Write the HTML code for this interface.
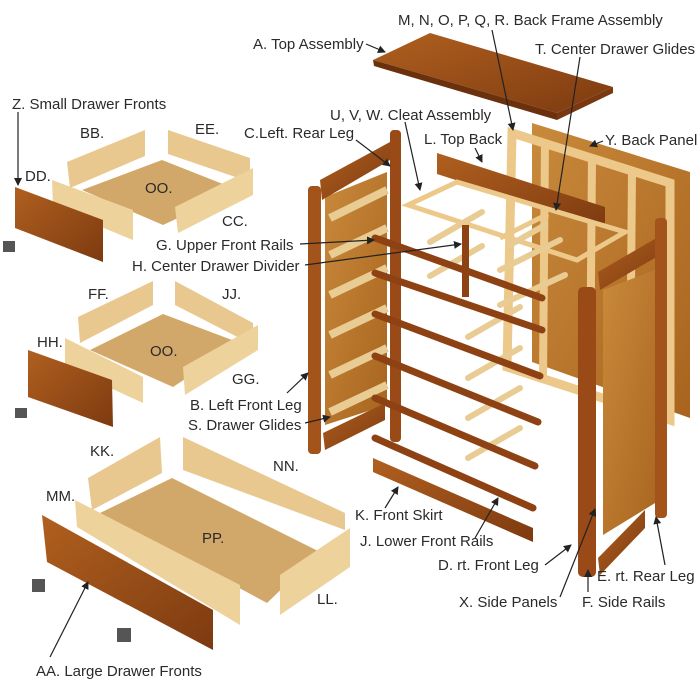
<!DOCTYPE html>
<html><head><meta charset="utf-8"><style>
html,body{margin:0;padding:0;background:#fff;}
svg{display:block;}
text{font-family:"Liberation Sans",Arial,sans-serif;font-size:15px;fill:#2a2a2a;}
</style></head><body>
<svg width="700" height="700" viewBox="0 0 700 700" xmlns="http://www.w3.org/2000/svg">
<defs>
<marker id="ar" markerWidth="8" markerHeight="8" refX="7" refY="4" orient="auto" markerUnits="userSpaceOnUse">
<path d="M0,0 L8,4 L0,8 z" fill="#222"/></marker>
<linearGradient id="dk" x1="0" y1="0" x2="1" y2="1"><stop offset="0" stop-color="#b0601f"/><stop offset="1" stop-color="#7d3a10"/></linearGradient>
<linearGradient id="pl" x1="0" y1="0" x2="1" y2="1"><stop offset="0" stop-color="#c98a3c"/><stop offset="1" stop-color="#a8641e"/></linearGradient>
</defs>

<!-- Top assembly -->
<polygon points="373,60 430,33 613,87 557,113" fill="url(#dk)"/>
<polygon points="373,60 557,113 557,120 374,66" fill="#6b300c"/>
<polygon points="557,113 613,87 613,93 557,120" fill="#7a3810"/>

<!-- Back panel -->
<polygon points="532,123 690,172 690,418 532,362" fill="url(#pl)"/>
<!-- Back frame -->
<polygon points="512,133 670,183 670,420 507,367" fill="none" stroke="#ecc98a" stroke-width="9"/>
<line x1="545" y1="143" x2="543" y2="378" stroke="#ecc98a" stroke-width="8"/>
<line x1="592" y1="158" x2="590" y2="395" stroke="#ecc98a" stroke-width="8"/>
<line x1="632" y1="171" x2="630" y2="408" stroke="#ecc98a" stroke-width="8"/>

<!-- Top back -->
<polygon points="437,153 605,207 605,228 437,174" fill="url(#dk)"/>
<!-- Cleat frame -->
<polygon points="408,205 457,182 625,232 577,260" fill="none" stroke="#ecc98a" stroke-width="5"/>
<line x1="500" y1="238" x2="548" y2="214" stroke="#ecc98a" stroke-width="5"/>

<!-- glides (light dowels) -->
<g stroke="#e8cc94" stroke-width="6" stroke-linecap="round">
<line x1="430" y1="242" x2="482" y2="212"/>
<line x1="430" y1="276" x2="482" y2="246"/>
<line x1="468" y1="337" x2="520" y2="307"/>
<line x1="468" y1="378" x2="520" y2="348"/>
<line x1="468" y1="418" x2="520" y2="388"/>
<line x1="468" y1="458" x2="520" y2="428"/>
<line x1="500" y1="270" x2="560" y2="240"/>
<line x1="500" y1="305" x2="565" y2="275"/>
<line x1="510" y1="245" x2="545" y2="225"/>
</g>

<!-- Left side assembly -->
<polygon points="325,197 387,172 387,405 325,425" fill="url(#pl)"/>
<polygon points="320,180 390,142 390,160 322,200" fill="url(#dk)"/>
<polygon points="323,433 385,403 385,420 325,450" fill="url(#dk)"/>
<g stroke="#e8cc94" stroke-width="8">
<line x1="330" y1="218" x2="387" y2="190"/>
<line x1="330" y1="255" x2="387" y2="228"/>
<line x1="330" y1="295" x2="387" y2="268"/>
<line x1="330" y1="335" x2="387" y2="308"/>
<line x1="330" y1="375" x2="387" y2="348"/>
<line x1="330" y1="412" x2="387" y2="385"/>
</g>
<rect x="390" y="130" width="11" height="312" rx="4" fill="#9a4a16"/>
<rect x="308" y="186" width="13" height="268" rx="4" fill="#a3541b"/>

<!-- Front rails -->
<g stroke="#8e4213" stroke-width="7" stroke-linecap="round">
<line x1="375" y1="238" x2="542" y2="298"/>
<line x1="375" y1="273" x2="542" y2="330"/>
<line x1="375" y1="314" x2="540" y2="376"/>
<line x1="375" y1="356" x2="538" y2="422"/>
<line x1="375" y1="398" x2="535" y2="466"/>
<line x1="375" y1="438" x2="533" y2="508"/>
</g>
<polygon points="373,458 533,528 533,542 373,472" fill="url(#dk)"/>
<rect x="462" y="225" width="7" height="72" fill="#8e4213"/>

<!-- Right side -->
<polygon points="603,290 660,268 660,500 603,535" fill="url(#pl)"/>
<polygon points="598,272 665,233 665,252 600,290" fill="url(#dk)"/>
<polygon points="598,558 645,510 645,528 600,575" fill="url(#dk)"/>
<rect x="655" y="218" width="12" height="300" rx="4" fill="#a3541b"/>
<rect x="578" y="287" width="18" height="290" rx="5" fill="#9a4a16"/>

<!-- Small drawer 1 -->
<polygon points="82,190 162,160 238,190 163,225" fill="#d2a86a"/>
<polygon points="67,162 145,130 145,156 70,188" fill="#e8c88e"/>
<polygon points="168,130 250,158 250,182 168,154" fill="#e8c88e"/>
<polygon points="52,180 133,210 133,240 53,207" fill="#edd29c"/>
<polygon points="175,207 253,168 253,195 178,233" fill="#edd29c"/>
<polygon points="15,187 103,220 103,262 15,228" fill="url(#dk)"/>

<!-- Small drawer 2 -->
<polygon points="90,350 163,314 240,343 173,387" fill="#d2a86a"/>
<polygon points="78,317 153,281 153,305 80,343" fill="#e8c88e"/>
<polygon points="175,281 253,323 253,345 175,305" fill="#e8c88e"/>
<polygon points="65,338 143,377 143,403 65,367" fill="#edd29c"/>
<polygon points="183,367 258,325 258,350 185,395" fill="#edd29c"/>
<polygon points="28,350 112,380 113,427 28,397" fill="url(#dk)"/>

<!-- Large drawer -->
<polygon points="100,513 172,478 320,552 267,603" fill="#d2a86a"/>
<polygon points="88,478 160,437 162,473 92,510" fill="#e8c88e"/>
<polygon points="183,437 345,513 345,530 183,470" fill="#e8c88e"/>
<polygon points="75,500 240,585 240,625 77,527" fill="#edd29c"/>
<polygon points="280,575 350,528 350,567 280,615" fill="#edd29c"/>
<polygon points="42,515 213,610 213,650 47,562" fill="url(#dk)"/>

<!-- handles -->
<rect x="3" y="241" width="12" height="11" fill="#555"/>
<rect x="15" y="408" width="12" height="10" fill="#555"/>
<rect x="32" y="579" width="13" height="13" fill="#555"/>
<rect x="117" y="628" width="14" height="14" fill="#555"/>

<!-- leaders -->
<g stroke="#222" stroke-width="1.2" fill="none" marker-end="url(#ar)">
<line x1="366" y1="44" x2="385" y2="52"/>
<line x1="492" y1="30" x2="513" y2="130"/>
<line x1="580" y1="57" x2="556" y2="210"/>
<line x1="18" y1="112" x2="18" y2="185"/>
<line x1="405" y1="122" x2="420" y2="190"/>
<line x1="356" y1="140" x2="390" y2="166"/>
<line x1="475" y1="148" x2="482" y2="162"/>
<line x1="603" y1="141" x2="590" y2="146"/>
<line x1="300" y1="244" x2="374" y2="240"/>
<line x1="305" y1="265" x2="461" y2="244"/>
<line x1="287" y1="393" x2="308" y2="373"/>
<line x1="305" y1="423" x2="330" y2="417"/>
<line x1="385" y1="508" x2="398" y2="487"/>
<line x1="475" y1="538" x2="498" y2="498"/>
<line x1="545" y1="565" x2="571" y2="545"/>
<line x1="665" y1="565" x2="656" y2="517"/>
<line x1="560" y1="597" x2="595" y2="509"/>
<line x1="588" y1="592" x2="588" y2="570"/>
<line x1="50" y1="657" x2="88" y2="582"/>
</g>

<!-- labels -->
<text x="398" y="25">M, N, O, P, Q, R. Back Frame Assembly</text>
<text x="253" y="49">A. Top Assembly</text>
<text x="535" y="54">T. Center Drawer Glides</text>
<text x="12" y="109">Z. Small Drawer Fronts</text>
<text x="330" y="120">U, V, W. Cleat Assembly</text>
<text x="244" y="138">C.Left. Rear Leg</text>
<text x="424" y="144">L. Top Back</text>
<text x="605" y="145">Y. Back Panel</text>
<text x="80" y="138">BB.</text>
<text x="195" y="134">EE.</text>
<text x="25" y="181">DD.</text>
<text x="145" y="193">OO.</text>
<text x="222" y="226">CC.</text>
<text x="156" y="250">G. Upper Front Rails</text>
<text x="132" y="271">H. Center Drawer Divider</text>
<text x="88" y="299">FF.</text>
<text x="222" y="299">JJ.</text>
<text x="37" y="347">HH.</text>
<text x="150" y="356">OO.</text>
<text x="232" y="384">GG.</text>
<text x="190" y="410">B. Left Front Leg</text>
<text x="188" y="430">S. Drawer Glides</text>
<text x="90" y="456">KK.</text>
<text x="273" y="471">NN.</text>
<text x="46" y="501">MM.</text>
<text x="355" y="520">K. Front Skirt</text>
<text x="202" y="543">PP.</text>
<text x="360" y="546">J. Lower Front Rails</text>
<text x="438" y="570">D. rt. Front Leg</text>
<text x="597" y="581">E. rt. Rear Leg</text>
<text x="317" y="604">LL.</text>
<text x="459" y="607">X. Side Panels</text>
<text x="582" y="607">F. Side Rails</text>
<text x="36" y="676">AA. Large Drawer Fronts</text>
</svg>
</body></html>
